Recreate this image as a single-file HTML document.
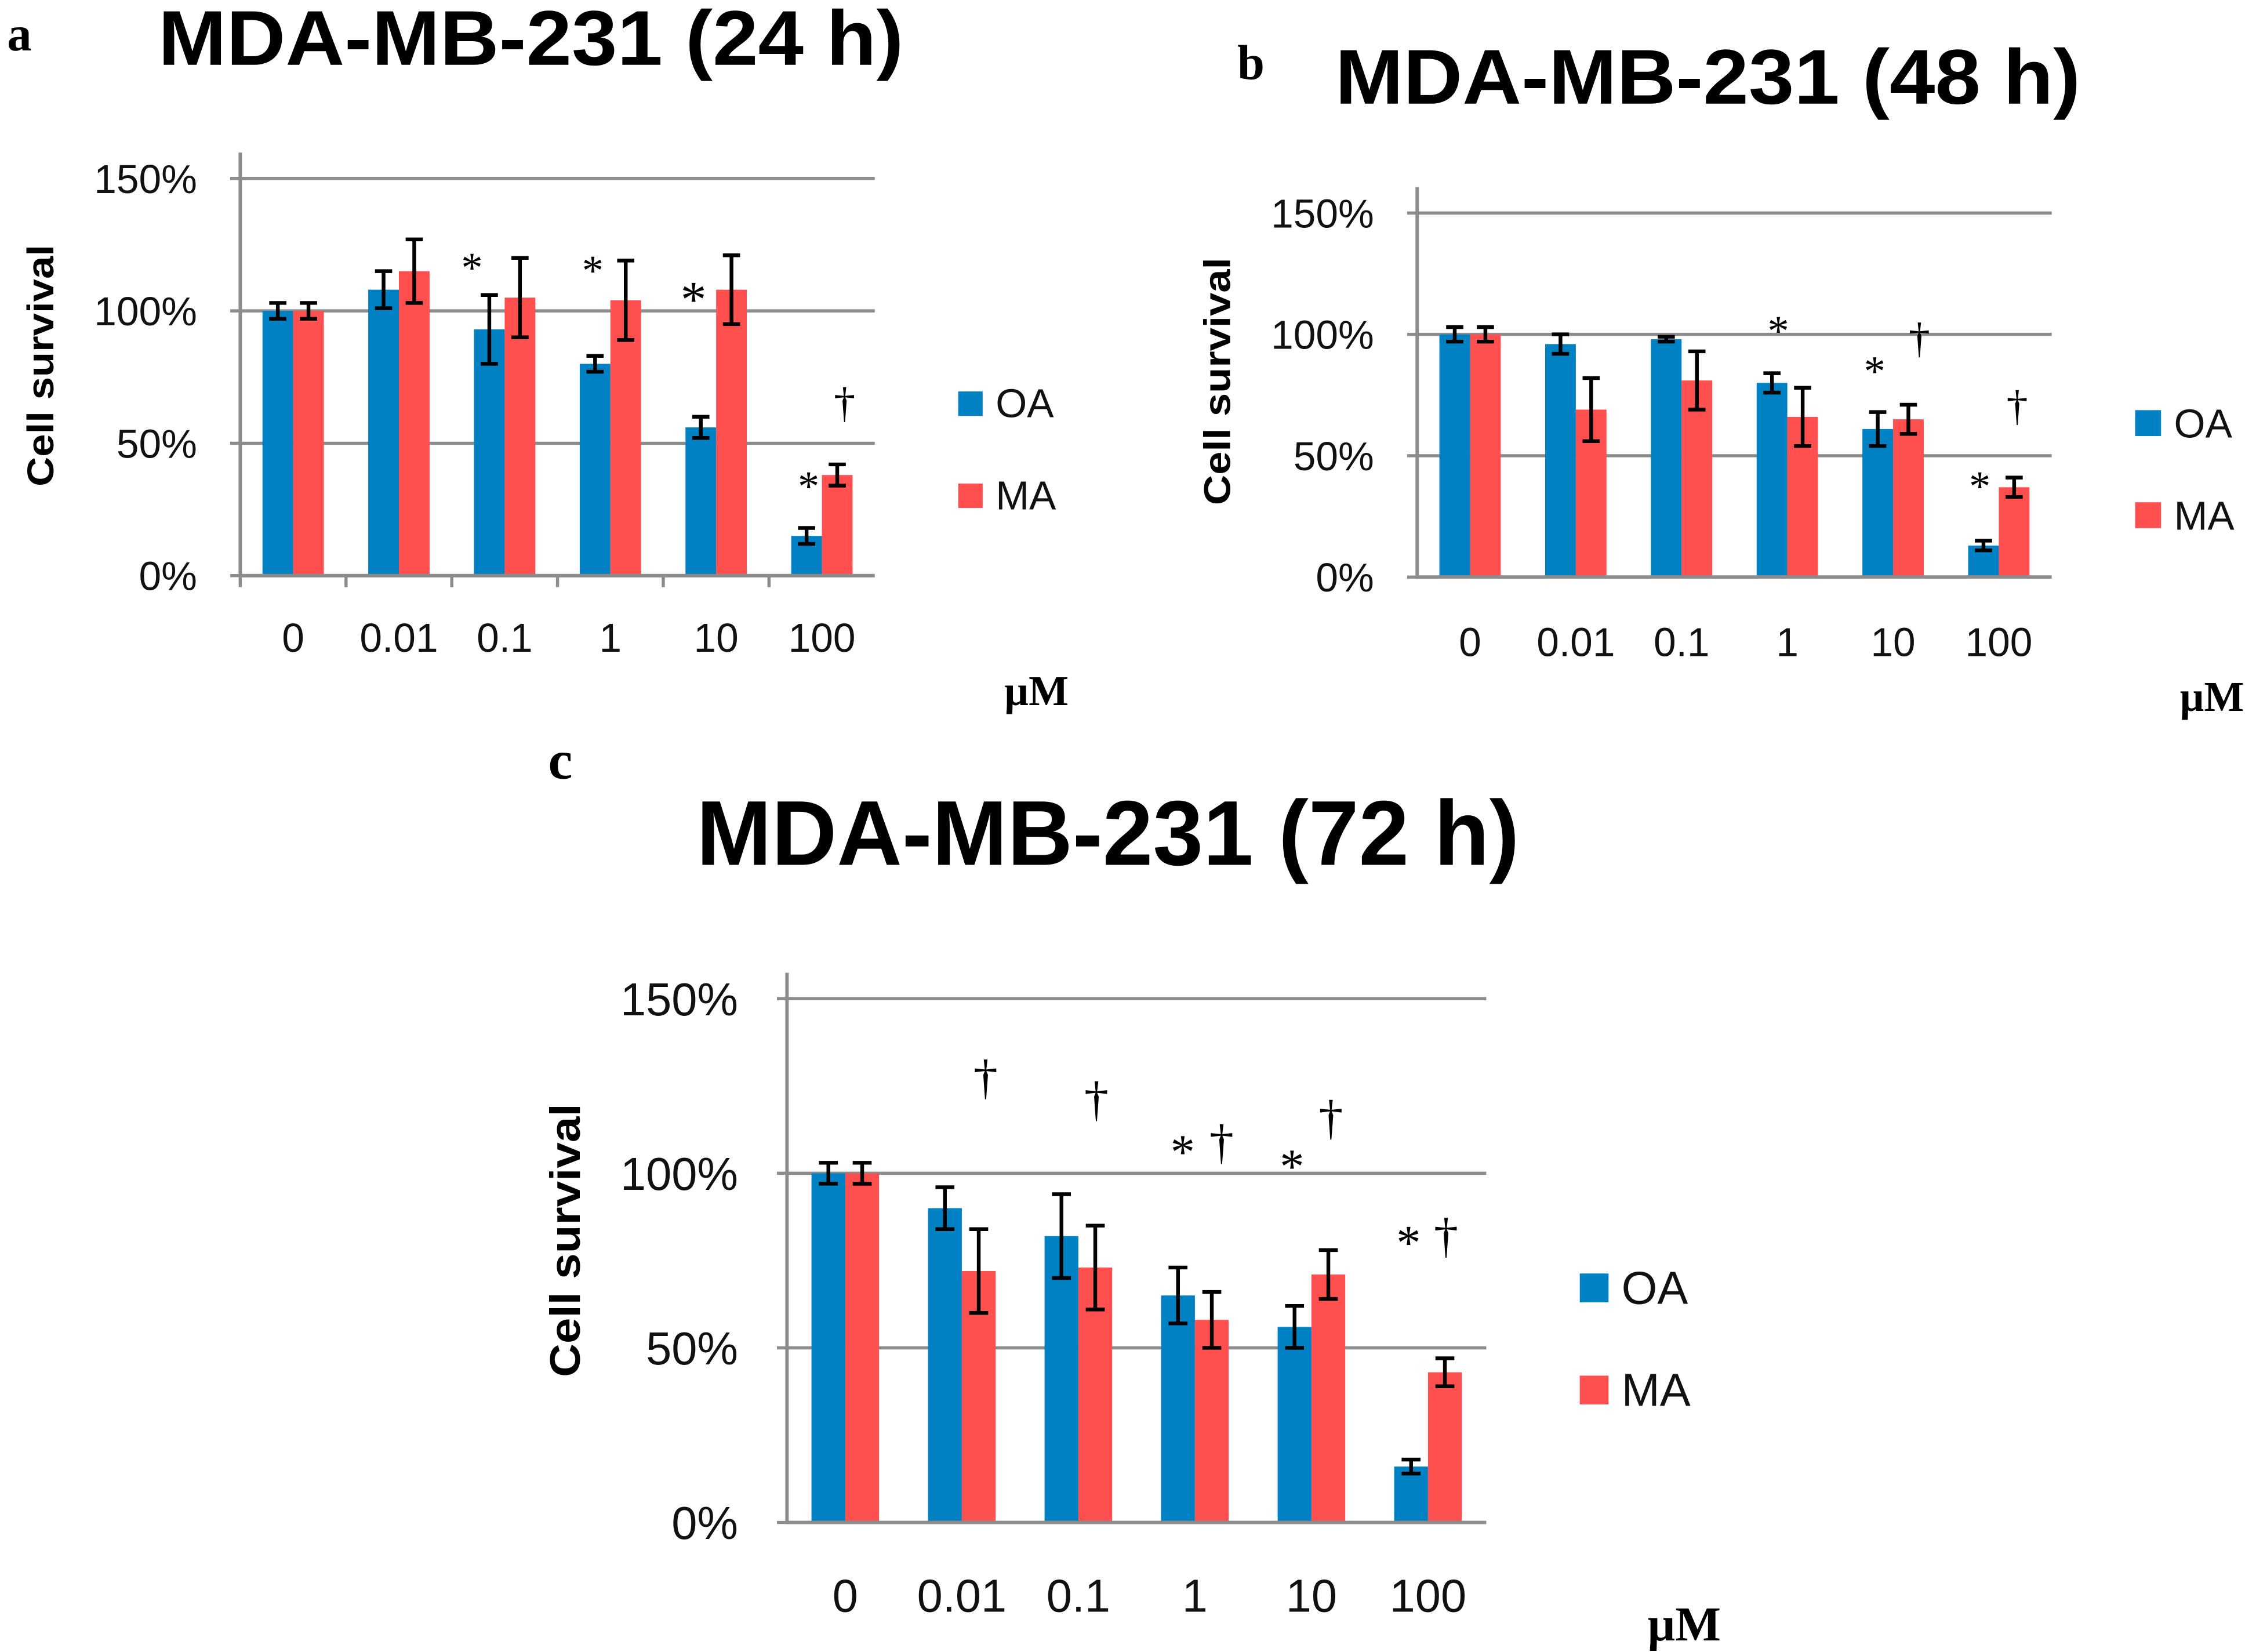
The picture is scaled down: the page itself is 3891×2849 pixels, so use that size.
<!DOCTYPE html>
<html><head><meta charset="utf-8"><style>
html,body{margin:0;padding:0;background:#fff;}
svg{display:block;}
</style></head><body>
<svg id="fig" width="3891" height="2849" viewBox="0 0 1568 1148" xmlns="http://www.w3.org/2000/svg" font-family="'Liberation Sans', sans-serif">
</svg>
<script>
const categories = ["0","0.01","0.1","1","10","100"];
const oaA = [100,108,93,80,56,15];
const oaAErr = [3,7,13,3,4,3];
const maA = [100,115,105,104,108,38];
const maAErr = [3,12,15,15,13,4];
const oaB = [100,96,98,80,61,13];
const oaBErr = [3,4,1,4,7,2];
const maB = [100,69,81,66,65,37];
const maBErr = [3,13,12,12,6,4];
const oaC = [100,90,82,65,56,16];
const oaCErr = [3,6,12,8,6,2];
const maC = [100,72,73,58,71,43];
const maCErr = [3,12,12,8,7,4];
const yTicks = [0,50,100,150];
const yTickLabels = ["0%","50%","100%","150%"];

const NS="http://www.w3.org/2000/svg";
const svg=document.getElementById('fig');
function mk(tag,attrs,parent,text){const e=document.createElementNS(NS,tag);for(const k in attrs)e.setAttribute(k,attrs[k]);if(text!==undefined)e.textContent=text;(parent||svg).appendChild(e);return e;}

function chart(cfg){
  const g=mk('g',{});
  
  
  const y=v=>cfg.y0-(cfg.y0-cfg.y150)*v/150;
  const cw=(cfg.x1-cfg.x0)/categories.length;
  const bw=cw*0.29;
  yTicks.forEach((t,i)=>{
    if(t>0){const l=mk('line',{x1:cfg.x0,x2:cfg.x1,y1:y(t),y2:y(t),stroke:'#8c8c8c','stroke-width':2.2},g);
      }
    const tx=mk('text',{x:cfg.x0-cfg.labGap,y:y(t)+cfg.fs*0.36,'text-anchor':'end','font-size':cfg.fs,fill:'#111'},g,yTickLabels[i]);
    
    const tk=mk('line',{x1:cfg.x0-7,x2:cfg.x0,y1:y(t),y2:y(t),stroke:'#8c8c8c','stroke-width':2.2},g);
    
  });
  categories.forEach((c,i)=>{
    const cx=cfg.x0+cw*(i+0.5);
    [[cfg.oa,cfg.oaE,'#0081c3',cx-bw],[cfg.ma,cfg.maE,'#ff4f4f',cx]].forEach(([vals,errs,col,bx],s)=>{
      const r=mk('rect',{x:bx,y:y(vals[i]),width:bw,height:cfg.y0-y(vals[i]),fill:col},g);
      
      const ex=bx+bw/2,t=y(vals[i]+errs[i]),b=y(vals[i]-errs[i]);
      const e=mk('path',{d:`M${ex-bw*0.28},${t}H${ex+bw*0.28}M${ex},${t}V${b}M${ex-bw*0.28},${b}H${ex+bw*0.28}`,stroke:'#000','stroke-width':2.6,fill:'none'},g);
      
    });
    const xl=mk('text',{x:cx,y:cfg.xlabY,'text-anchor':'middle','font-size':cfg.fs,fill:'#111'},g,c);
    
    if(cfg.xticks){const tk=mk('line',{x1:cfg.x0+cw*i,x2:cfg.x0+cw*i,y1:cfg.y0,y2:cfg.y0+8,stroke:'#8c8c8c','stroke-width':2.2},g);
      }
  });
  const ax=mk('path',{d:`M${cfg.x0},${cfg.y150-18}V${cfg.y0}H${cfg.x1}`,stroke:'#8c8c8c','stroke-width':2.4,fill:'none'},g);
  
  const yt=mk('text',{transform:`translate(${cfg.ytX},${cfg.ytY}) rotate(-90)`,'text-anchor':'middle','font-size':cfg.fs*0.92,'font-weight':'bold',fill:'#000',textLength:cfg.ytLen,lengthAdjust:'spacingAndGlyphs'},g,'Cell survival');
  
  const ti=mk('text',{x:cfg.tX,y:cfg.tY,'text-anchor':'middle','font-size':cfg.tfs,'font-weight':'bold',fill:'#000',textLength:cfg.tLen,lengthAdjust:'spacingAndGlyphs'},g,cfg.title);
  
  const pl=mk('text',{x:cfg.pX,y:cfg.pY,'font-size':cfg.pfs,'font-weight':'bold','font-family':"'Liberation Serif', serif",fill:'#000'},g,cfg.panel);
  
  const um=mk('text',{x:cfg.uX,y:cfg.uY,'font-size':cfg.fs*1.05,'font-weight':'bold','font-family':"'Liberation Serif', serif",fill:'#000'},g,'µM');
  
  [['OA','#0081c3',cfg.lY1],['MA','#ff4f4f',cfg.lY2]].forEach(([n,col,ly])=>{
    const sw=mk('rect',{x:cfg.lX,y:ly-cfg.ls,width:cfg.ls,height:cfg.ls,fill:col},g);
    
    const lt=mk('text',{x:cfg.lX+cfg.ls+9,y:ly+1,'font-size':cfg.fs,fill:'#111'},g,n);
    
  });
  cfg.marks.forEach(([t,x,yy,fs])=>{
    const m=mk('text',{x:x,y:yy,'text-anchor':'middle','font-size':fs,'font-family':"'Liberation Serif', serif",fill:'#000'},g,t);
    
  });
}

chart({name:'chart-24h',oa:oaA,oaE:oaAErr,ma:maA,maE:maAErr,x0:167,x1:608,y0:400,y150:124,fs:28,labGap:30,xlabY:453,xticks:true,
  ytX:37,ytY:254,ytLen:168,tX:369,tY:45,tfs:54,tLen:518,title:'MDA-MB-231 (24 h)',pX:5,pY:35,pfs:34,panel:'a',uX:698,uY:490,
  lX:666,lY1:289,lY2:353,ls:17,
  marks:[['*',328,196,30],['*',412,198,30],['*',482,220,36],['*',562,348,30],['†',587,290,30]]});
chart({name:'chart-48h',oa:oaB,oaE:oaBErr,ma:maB,maE:maBErr,x0:985,x1:1426,y0:401,y150:148,fs:28,labGap:30,xlabY:456,xticks:false,
  ytX:855,ytY:265,ytLen:172,tX:1187,tY:72,tfs:54,tLen:518,title:'MDA-MB-231 (48 h)',pX:860,pY:55,pfs:34,panel:'b',uX:1515,uY:494,
  lX:1484,lY1:303,lY2:367,ls:18,
  marks:[['*',1236,240,30],['*',1303,268,30],['†',1334,245,30],['*',1376,348,30],['†',1402,292,30]]});
chart({name:'chart-72h',oa:oaC,oaE:oaCErr,ma:maC,maE:maCErr,x0:547,x1:1033,y0:1058,y150:694,fs:32,labGap:34,xlabY:1120,xticks:false,
  ytX:403,ytY:862,ytLen:190,tX:770,tY:601,tfs:64,tLen:572,title:'MDA-MB-231 (72 h)',pX:381,pY:541,pfs:38,panel:'c',uX:1145,uY:1140,
  lX:1098,lY1:905,lY2:976,ls:20,
  marks:[['†',685,760,34],['†',762,775,34],['*',822,812,34],['†',849,805,34],['*',898,822,34],['†',925,788,34],['*',979,875,34],['†',1005,870,34]]});
</script>
</body></html>
